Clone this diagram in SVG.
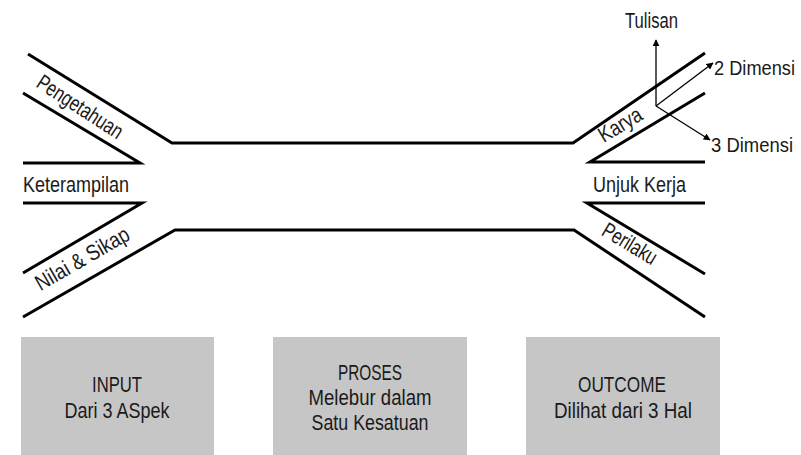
<svg xmlns="http://www.w3.org/2000/svg" width="801" height="455" viewBox="0 0 801 455">
<defs>
<style>
.ln{fill:none;stroke:#000;stroke-width:3;stroke-linejoin:miter;stroke-linecap:butt}
.ar{fill:none;stroke:#000;stroke-width:1.3}
.t{font-family:"Liberation Sans",Arial,sans-serif;font-size:22px;fill:#1a1a1a}
.s{font-size:19.5px}
.m{text-anchor:middle}
.box{fill:#c6c6c6}
</style>
<marker id="ah" viewBox="0 0 10 10" refX="9" refY="5" markerWidth="7" markerHeight="7" markerUnits="userSpaceOnUse" orient="auto">
<path d="M0,0 L10,5 L0,10 z" fill="#000"/>
</marker>
</defs>
<rect width="801" height="455" fill="#fff"/>
<g id="channel">
<polyline class="ln" points="28,54 172,143 573,143 705,53"/>
<polyline class="ln" points="23,317 175,230 574,230 705,317"/>
</g>
<g id="pengetahuan">
<polyline class="ln" points="23,93 140,163 23,163"/>
<text class="t m" transform="translate(76,113) rotate(33)" textLength="98" lengthAdjust="spacingAndGlyphs">Pengetahuan</text>
</g>
<g id="keterampilan">
<text class="t" x="23" y="192" textLength="106" lengthAdjust="spacingAndGlyphs">Keterampilan</text>
</g>
<g id="nilai-sikap">
<polyline class="ln" points="23,203 142,203 23,273"/>
<text class="t m" transform="translate(86,265) rotate(-30)" textLength="105" lengthAdjust="spacingAndGlyphs">Nilai &amp; Sikap</text>
</g>
<g id="karya">
<polyline class="ln" points="705,93 590,162 705,162"/>
<text class="t m" transform="translate(624,131) rotate(-31)" textLength="47" lengthAdjust="spacingAndGlyphs">Karya</text>
</g>
<g id="unjuk-kerja">
<text class="t" x="593" y="192" textLength="93" lengthAdjust="spacingAndGlyphs">Unjuk Kerja</text>
</g>
<g id="perilaku">
<polyline class="ln" points="705,203 587,203 705,274"/>
<text class="t m" transform="translate(626,250) rotate(31)" textLength="60" lengthAdjust="spacingAndGlyphs">Perilaku</text>
</g>
<g id="connectors">
<line class="ar" x1="656" y1="106" x2="656" y2="40" marker-end="url(#ah)"/>
<line class="ar" x1="656" y1="106" x2="713" y2="63" marker-end="url(#ah)"/>
<line class="ar" x1="656" y1="106" x2="710" y2="140" marker-end="url(#ah)"/>
</g>
<g id="tulisan"><text class="t" x="625" y="28" textLength="53" lengthAdjust="spacingAndGlyphs">Tulisan</text></g>
<g id="dimensi2"><text class="t s" x="714" y="75" textLength="81" lengthAdjust="spacingAndGlyphs">2 Dimensi</text></g>
<g id="dimensi3"><text class="t s" x="711" y="152" textLength="82" lengthAdjust="spacingAndGlyphs">3 Dimensi</text></g>
<g id="input">
<rect class="box" x="21" y="337" width="193" height="118"/>
<text class="t m" x="117" y="392" textLength="50" lengthAdjust="spacingAndGlyphs">INPUT</text>
<text class="t m" x="117" y="418" textLength="105" lengthAdjust="spacingAndGlyphs">Dari 3 ASpek</text>
</g>
<g id="proses">
<rect class="box" x="273" y="337" width="194" height="118"/>
<text class="t m" x="370" y="380" textLength="64" lengthAdjust="spacingAndGlyphs">PROSES</text>
<text class="t m" x="370" y="405" textLength="123" lengthAdjust="spacingAndGlyphs">Melebur dalam</text>
<text class="t m" x="370" y="430" textLength="117" lengthAdjust="spacingAndGlyphs">Satu Kesatuan</text>
</g>
<g id="outcome">
<rect class="box" x="526" y="337" width="194" height="118"/>
<text class="t m" x="622" y="392" textLength="88" lengthAdjust="spacingAndGlyphs">OUTCOME</text>
<text class="t m" x="623" y="418" textLength="138" lengthAdjust="spacingAndGlyphs">Dilihat dari 3 Hal</text>
</g>
</svg>
